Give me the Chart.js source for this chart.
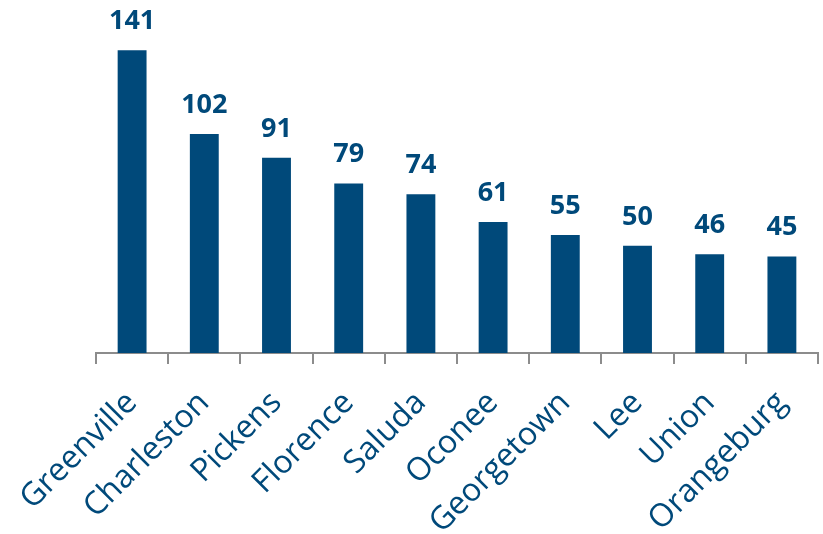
<!DOCTYPE html>
<html>
<head>
<meta charset="utf-8">
<script src="https://cdn.jsdelivr.net/npm/chart.js@4"></script>
<style>
  html, body { margin: 0; padding: 0; background: #fff; }
  #wrap { width: 823px; height: 534px; }
</style>
</head>
<body>
<div id="wrap"><canvas id="grafico"></canvas></div>
<script>
var condados = ['Greenville', 'Charleston', 'Pickens', 'Florence', 'Saluda',
    'Oconee', 'Georgetown', 'Lee', 'Union', 'Orangeburg'];
var valores = [141, 102, 91, 79, 74, 61, 55, 50, 46, 45];

var azul = '#00497a';
var gris = '#8c8c8c';

// dibuja el valor encima de cada barra
var etiquetas_valor = {
    id: 'etiquetas_valor',
    afterDatasetsDraw: function (chart) {
        var ctx = chart.ctx;
        var meta = chart.getDatasetMeta(0);
        ctx.save();
        ctx.font = 'bold 27px "Open Sans"';
        ctx.fillStyle = azul;
        ctx.textAlign = 'center';
        ctx.textBaseline = 'alphabetic';
        meta.data.forEach(function (bar, i) {
            ctx.fillText(valores[i], bar.x, bar.y - 21);
        });
        ctx.restore();
    }
};

var chart = new Chart(document.getElementById('grafico'), {
    type: 'bar',
    data: {
        labels: condados,
        datasets: [{
            data: valores,
            backgroundColor: azul,
            borderWidth: 0,
            barPercentage: 0.4,
            categoryPercentage: 1.0
        }]
    },
    options: {
        responsive: true,
        maintainAspectRatio: false,
        animation: false,
        layout: {
            padding: { left: 96, right: 5, top: 31, bottom: 0 }
        },
        plugins: {
            legend: { display: false },
            tooltip: { enabled: false }
        },
        scales: {
            x: {
                afterFit: function (scale) {
                    scale.paddingLeft = 0;
                    scale.paddingRight = 0;
                    scale.height = 181;
                },
                grid: {
                    offset: true,
                    drawOnChartArea: false,
                    tickLength: 11,
                    color: gris,
                    lineWidth: 2
                },
                border: { display: true, color: gris, width: 2 },
                ticks: {
                    minRotation: 45,
                    maxRotation: 45,
                    color: azul,
                    padding: 20,
                    font: { family: '"Open Sans"', size: 32 }
                }
            },
            y: {
                display: false,
                min: 0,
                max: 150,
                afterFit: function (scale) {
                    scale.width = 0;
                }
            }
        }
    },
    plugins: [etiquetas_valor]
});
</script>
</body>
</html>
